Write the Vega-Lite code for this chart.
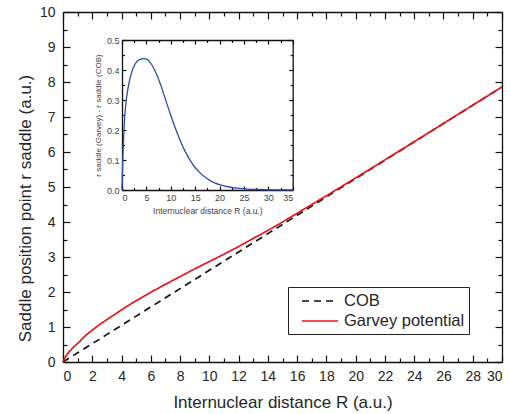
{
  "$schema": "https://vega.github.io/schema/vega-lite/v6.json",
  "width": 439,
  "height": 350,
  "autosize": {"type": "none"},
  "padding": {"left": 63, "top": 12, "right": 9, "bottom": 52},
  "background": "white",
  "config": {
    "font": "Liberation Sans",
    "view": {"stroke": null},
    "axis": {"grid": false, "domainColor": "#111111", "tickColor": "#111111", "domainWidth": 1.3, "tickWidth": 1.2, "labelColor": "#262626", "titleColor": "#262626", "titleFontWeight": "normal", "labelFont": "Liberation Sans", "titleFont": "Liberation Sans"},
    "legend": {"labelFont": "Liberation Sans"}
  },
  "datasets": {
    "main": [
      {"R": 0, "r": 0, "series": "COB"},
      {"R": 1, "r": 0.262, "series": "COB"},
      {"R": 2, "r": 0.524, "series": "COB"},
      {"R": 4, "r": 1.048, "series": "COB"},
      {"R": 6, "r": 1.572, "series": "COB"},
      {"R": 8, "r": 2.096, "series": "COB"},
      {"R": 10, "r": 2.62, "series": "COB"},
      {"R": 12, "r": 3.144, "series": "COB"},
      {"R": 14, "r": 3.668, "series": "COB"},
      {"R": 16, "r": 4.192, "series": "COB"},
      {"R": 18, "r": 4.716, "series": "COB"},
      {"R": 20, "r": 5.24, "series": "COB"},
      {"R": 22, "r": 5.764, "series": "COB"},
      {"R": 24, "r": 6.288, "series": "COB"},
      {"R": 26, "r": 6.812, "series": "COB"},
      {"R": 28, "r": 7.336, "series": "COB"},
      {"R": 30, "r": 7.86, "series": "COB"},
      {"R": 0, "r": 0, "series": "Garvey potential"},
      {"R": 0.1, "r": 0.09, "series": "Garvey potential"},
      {"R": 0.25, "r": 0.2, "series": "Garvey potential"},
      {"R": 0.5, "r": 0.33, "series": "Garvey potential"},
      {"R": 0.75, "r": 0.44, "series": "Garvey potential"},
      {"R": 1, "r": 0.53, "series": "Garvey potential"},
      {"R": 1.5, "r": 0.74, "series": "Garvey potential"},
      {"R": 2, "r": 0.91, "series": "Garvey potential"},
      {"R": 2.5, "r": 1.07, "series": "Garvey potential"},
      {"R": 3, "r": 1.21, "series": "Garvey potential"},
      {"R": 3.5, "r": 1.35, "series": "Garvey potential"},
      {"R": 4, "r": 1.49, "series": "Garvey potential"},
      {"R": 5, "r": 1.75, "series": "Garvey potential"},
      {"R": 6, "r": 1.99, "series": "Garvey potential"},
      {"R": 7, "r": 2.22, "series": "Garvey potential"},
      {"R": 8, "r": 2.44, "series": "Garvey potential"},
      {"R": 9, "r": 2.66, "series": "Garvey potential"},
      {"R": 10, "r": 2.87, "series": "Garvey potential"},
      {"R": 11, "r": 3.08, "series": "Garvey potential"},
      {"R": 12, "r": 3.3, "series": "Garvey potential"},
      {"R": 13, "r": 3.53, "series": "Garvey potential"},
      {"R": 14, "r": 3.76, "series": "Garvey potential"},
      {"R": 15, "r": 4.0, "series": "Garvey potential"},
      {"R": 16, "r": 4.25, "series": "Garvey potential"},
      {"R": 17, "r": 4.5, "series": "Garvey potential"},
      {"R": 18, "r": 4.75, "series": "Garvey potential"},
      {"R": 20, "r": 5.26, "series": "Garvey potential"},
      {"R": 22, "r": 5.775, "series": "Garvey potential"},
      {"R": 24, "r": 6.295, "series": "Garvey potential"},
      {"R": 26, "r": 6.815, "series": "Garvey potential"},
      {"R": 28, "r": 7.337, "series": "Garvey potential"},
      {"R": 30, "r": 7.861, "series": "Garvey potential"}
    ],
    "inset": [
      {"R": 0, "d": 0},
      {"R": 0.1, "d": 0.07},
      {"R": 0.2, "d": 0.12},
      {"R": 0.35, "d": 0.18},
      {"R": 0.5, "d": 0.23},
      {"R": 0.75, "d": 0.28},
      {"R": 1, "d": 0.315},
      {"R": 1.5, "d": 0.362},
      {"R": 2, "d": 0.393},
      {"R": 2.5, "d": 0.414},
      {"R": 3, "d": 0.427},
      {"R": 3.5, "d": 0.434},
      {"R": 4, "d": 0.437},
      {"R": 4.5, "d": 0.438},
      {"R": 5, "d": 0.436},
      {"R": 5.5, "d": 0.43},
      {"R": 6, "d": 0.42},
      {"R": 6.5, "d": 0.406},
      {"R": 7, "d": 0.389},
      {"R": 7.5, "d": 0.369},
      {"R": 8, "d": 0.347},
      {"R": 8.5, "d": 0.323},
      {"R": 9, "d": 0.298},
      {"R": 9.5, "d": 0.273},
      {"R": 10, "d": 0.249},
      {"R": 11, "d": 0.203},
      {"R": 12, "d": 0.162},
      {"R": 13, "d": 0.127},
      {"R": 14, "d": 0.098},
      {"R": 15, "d": 0.075},
      {"R": 16, "d": 0.057},
      {"R": 17, "d": 0.043},
      {"R": 18, "d": 0.032},
      {"R": 19, "d": 0.024},
      {"R": 20, "d": 0.018},
      {"R": 22, "d": 0.01},
      {"R": 24, "d": 0.0055},
      {"R": 26, "d": 0.003},
      {"R": 28, "d": 0.0016},
      {"R": 30, "d": 0.0008},
      {"R": 32, "d": 0.0004},
      {"R": 35, "d": 0.0001}
    ]
  },
  "resolve": {
    "scale": {"x": "independent", "y": "independent", "color": "shared", "strokeDash": "shared"},
    "axis": {"x": "independent", "y": "independent"}
  },
  "layer": [
    {
      "data": {"name": "main"},
      "mark": {"type": "point", "opacity": 0},
      "encoding": {
        "x": {"field": "R", "type": "quantitative", "scale": {"domain": [0, 30], "nice": false, "zero": false},
          "axis": {"orient": "top", "values": [0,2,4,6,8,10,12,14,16,18,20,22,24,26,28,30], "tickSize": -7, "labels": false, "title": null}},
        "y": {"field": "r", "type": "quantitative", "scale": {"domain": [0, 10], "nice": false, "zero": false},
          "axis": {"orient": "right", "values": [0,1,2,3,4,5,6,7,8,9,10], "tickSize": -7, "labels": false, "title": null}}
      }
    },
    {
      "data": {"name": "main"},
      "mark": {"type": "point", "opacity": 0},
      "encoding": {
        "x": {"field": "R", "type": "quantitative", "scale": {"domain": [0, 30], "nice": false, "zero": false},
          "axis": {"orient": "top", "values": [1,3,5,7,9,11,13,15,17,19,21,23,25,27,29], "tickSize": -4, "labels": false, "domain": false, "title": null}},
        "y": {"field": "r", "type": "quantitative", "scale": {"domain": [0, 10], "nice": false, "zero": false},
          "axis": {"orient": "right", "values": [0.5,1.5,2.5,3.5,4.5,5.5,6.5,7.5,8.5,9.5], "tickSize": -4, "labels": false, "domain": false, "title": null}}
      }
    },
    {
      "data": {"name": "main"},
      "mark": {"type": "point", "opacity": 0},
      "encoding": {
        "x": {"field": "R", "type": "quantitative", "scale": {"domain": [0, 30], "nice": false, "zero": false},
          "axis": {"orient": "bottom", "values": [1,3,5,7,9,11,13,15,17,19,21,23,25,27,29], "tickSize": -4, "labels": false, "domain": false, "title": null}},
        "y": {"field": "r", "type": "quantitative", "scale": {"domain": [0, 10], "nice": false, "zero": false},
          "axis": {"orient": "left", "values": [0.5,1.5,2.5,3.5,4.5,5.5,6.5,7.5,8.5,9.5], "tickSize": -4, "labels": false, "domain": false, "title": null}}
      }
    },
    {
      "data": {"name": "main"},
      "mark": {"type": "line", "strokeWidth": 1.7, "interpolate": "monotone"},
      "encoding": {
        "x": {"field": "R", "type": "quantitative", "scale": {"domain": [0, 30], "nice": false, "zero": false},
          "axis": {"orient": "bottom", "values": [0,2,4,6,8,10,12,14,16,18,20,22,24,26,28,30], "tickSize": -7, "labelPadding": 14, "labelFontSize": 14, "title": "Internuclear distance R (a.u.)", "titleFontSize": 17, "titlePadding": 11}},
        "y": {"field": "r", "type": "quantitative", "scale": {"domain": [0, 10], "nice": false, "zero": false},
          "axis": {"orient": "left", "values": [0,1,2,3,4,5,6,7,8,9,10], "tickSize": -7, "labelPadding": 15, "labelFontSize": 14, "title": "Saddle position point r saddle (a.u.)", "titleFontSize": 17, "titlePadding": 5, "titleY": 196}},
        "color": {"field": "series", "type": "nominal",
          "scale": {"domain": ["COB", "Garvey potential"], "range": ["#111111", "#e8161b"]},
          "legend": {"title": null, "orient": "none", "legendX": 225, "legendY": 275, "symbolType": "M0,0H4", "symbolSize": 324, "symbolStrokeWidth": 1.7, "labelFontSize": 16.5, "labelColor": "#262626", "strokeColor": "#222222", "fillColor": "white", "padding": 4, "labelOffset": 32, "rowPadding": 1}},
        "strokeDash": {"field": "series", "type": "nominal",
          "scale": {"domain": ["COB", "Garvey potential"], "range": [[7, 5], [1, 0]]},
          "legend": {"title": null, "orient": "none", "legendX": 225, "legendY": 275, "symbolType": "M0,0H4", "symbolSize": 324, "symbolStrokeWidth": 1.7, "labelFontSize": 16.5, "labelColor": "#262626", "strokeColor": "#222222", "fillColor": "white", "padding": 4, "labelOffset": 32, "rowPadding": 1}}
      }
    },
    {
      "data": {"name": "inset"},
      "mark": {"type": "point", "opacity": 0},
      "encoding": {
        "x": {"field": "R", "type": "quantitative", "scale": {"domain": [0, 35], "range": [59, 229.7], "nice": false, "zero": false},
          "axis": {"orient": "top", "offset": -28, "values": [0,5,10,15,20,25,30,35], "tickSize": -4, "labels": false, "title": null}},
        "y": {"field": "d", "type": "quantitative", "scale": {"domain": [0, 0.5], "range": [178, 28], "nice": false, "zero": false},
          "axis": {"orient": "right", "offset": -209.3, "values": [0,0.1,0.2,0.3,0.4,0.5], "tickSize": -4, "labels": false, "title": null}}
      }
    },
    {
      "data": {"name": "inset"},
      "mark": {"type": "point", "opacity": 0},
      "encoding": {
        "x": {"field": "R", "type": "quantitative", "scale": {"domain": [0, 35], "range": [59, 229.7], "nice": false, "zero": false},
          "axis": {"orient": "top", "offset": -28, "values": [2.5,7.5,12.5,17.5,22.5,27.5,32.5], "tickSize": -2.5, "labels": false, "domain": false, "title": null}},
        "y": {"field": "d", "type": "quantitative", "scale": {"domain": [0, 0.5], "range": [178, 28], "nice": false, "zero": false},
          "axis": {"orient": "right", "offset": -209.3, "values": [0.05,0.15,0.25,0.35,0.45], "tickSize": -2.5, "labels": false, "domain": false, "title": null}}
      }
    },
    {
      "data": {"name": "inset"},
      "mark": {"type": "point", "opacity": 0},
      "encoding": {
        "x": {"field": "R", "type": "quantitative", "scale": {"domain": [0, 35], "range": [59, 229.7], "nice": false, "zero": false},
          "axis": {"orient": "bottom", "offset": -172, "values": [2.5,7.5,12.5,17.5,22.5,27.5,32.5], "tickSize": -2.5, "labels": false, "domain": false, "title": null}},
        "y": {"field": "d", "type": "quantitative", "scale": {"domain": [0, 0.5], "range": [178, 28], "nice": false, "zero": false},
          "axis": {"orient": "left", "offset": -59, "values": [0.05,0.15,0.25,0.35,0.45], "tickSize": -2.5, "labels": false, "domain": false, "title": null}}
      }
    },
    {
      "data": {"name": "inset"},
      "mark": {"type": "line", "color": "#2a4ea6", "strokeWidth": 1.3, "interpolate": "monotone"},
      "encoding": {
        "x": {"field": "R", "type": "quantitative", "scale": {"domain": [0, 35], "range": [59, 229.7], "nice": false, "zero": false},
          "axis": {"orient": "bottom", "offset": -172, "values": [0,5,10,15,20,25,30,35], "tickSize": -4, "labelPadding": 7, "labelFontSize": 9, "labelColor": "#444444", "title": "Internuclear distance R (a.u.)", "titleFontSize": 8.5, "titleColor": "#444444", "titlePadding": 4}},
        "y": {"field": "d", "type": "quantitative", "scale": {"domain": [0, 0.5], "range": [178, 28], "nice": false, "zero": false},
          "axis": {"orient": "left", "offset": -59, "values": [0,0.1,0.2,0.3,0.4,0.5], "format": ".1f", "tickSize": -4, "labelPadding": 7, "labelFontSize": 9, "labelColor": "#444444", "title": "r saddle (Garvey) - r saddle (COB)", "titleFontSize": 8, "titleColor": "#444444", "titlePadding": 4}}
      }
    }
  ]
}
